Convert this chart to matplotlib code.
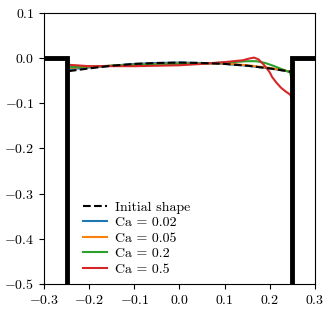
import matplotlib
matplotlib.use("Agg")

import matplotlib.pyplot as plt

plt.rcParams["font.family"] = "serif"
plt.rcParams["font.serif"] = ["cmr10"]
plt.rcParams["mathtext.fontset"] = "cm"
plt.rcParams["axes.formatter.use_mathtext"] = True
plt.rcParams["font.size"] = 10

# interface shapes
x_init = [-0.245, -0.2, -0.15, -0.1, -0.05, 0.0, 0.05, 0.1, 0.15, 0.2, 0.245]
y_init = [-0.029, -0.023, -0.017, -0.013, -0.011, -0.010, -0.011, -0.013, -0.017, -0.023, -0.030]

x_002 = [-0.245, -0.2, -0.15, -0.1, -0.05, 0.0, 0.05, 0.1, 0.15, 0.2, 0.245]
y_002 = [-0.025, -0.021, -0.017, -0.013, -0.011, -0.010, -0.011, -0.013, -0.017, -0.023, -0.030]

x_005 = [-0.245, -0.2, -0.15, -0.1, -0.05, 0.0, 0.05, 0.1, 0.15, 0.2, 0.245]
y_005 = [-0.022, -0.019, -0.017, -0.015, -0.013, -0.012, -0.012, -0.012, -0.016, -0.022, -0.030]

x_02 = [-0.245, -0.2, -0.15, -0.1, -0.05, 0.0, 0.05, 0.1, 0.15, 0.17, 0.19, 0.21, 0.23, 0.245, 0.248]
y_02 = [-0.020, -0.019, -0.017, -0.015, -0.014, -0.013, -0.012, -0.010, -0.007, -0.007, -0.011, -0.018, -0.026, -0.032, -0.048]

x_05 = [-0.245, -0.2, -0.15, -0.1, -0.05, 0.0, 0.05, 0.1, 0.14, 0.155, 0.165, 0.175, 0.185, 0.195,
        0.2, 0.205, 0.215, 0.225, 0.235, 0.245, 0.248]
y_05 = [-0.015, -0.018, -0.018, -0.018, -0.017, -0.016, -0.013, -0.009, -0.005, -0.001, 0.001, -0.003,
        -0.013, -0.025, -0.032, -0.042, -0.055, -0.066, -0.074, -0.081, -0.088]

# solid walls of the channel
wall_left_x = [-0.3, -0.25, -0.25]
wall_left_y = [0.0, 0.0, -0.5]
wall_right_x = [0.3, 0.25, 0.25]
wall_right_y = [0.0, 0.0, -0.5]

fig = plt.figure(figsize=(3.33, 3.14), dpi=100)
ax = fig.add_axes([0.132, 0.096, 0.814, 0.863])

ax.plot(x_init, y_init, "k--", lw=1.5, label="Initial shape", zorder=5)
ax.plot(x_002, y_002, color="C0", lw=1.5, label="Ca = 0.02")
ax.plot(x_005, y_005, color="C1", lw=1.5, label="Ca = 0.05")
ax.plot(x_02, y_02, color="C2", lw=1.5, label="Ca = 0.2")
ax.plot(x_05, y_05, color="C3", lw=1.5, label="Ca = 0.5")

ax.plot(wall_left_x, wall_left_y, color="k", lw=3.5, solid_joinstyle="miter", zorder=6)
ax.plot(wall_right_x, wall_right_y, color="k", lw=3.5, solid_joinstyle="miter", zorder=6)

ax.set_xlim(-0.3, 0.3)
ax.set_ylim(-0.5, 0.1)
ax.set_xticks([-0.3, -0.2, -0.1, 0.0, 0.1, 0.2, 0.3])
ax.set_yticks([-0.5, -0.4, -0.3, -0.2, -0.1, 0.0, 0.1])

ax.legend(loc="lower left", bbox_to_anchor=(0.115, 0.0), frameon=False, fontsize=10,
          labelspacing=0.2, handlelength=1.7, handletextpad=0.6, borderaxespad=0.2)

fig.savefig("out.png", dpi=100)
